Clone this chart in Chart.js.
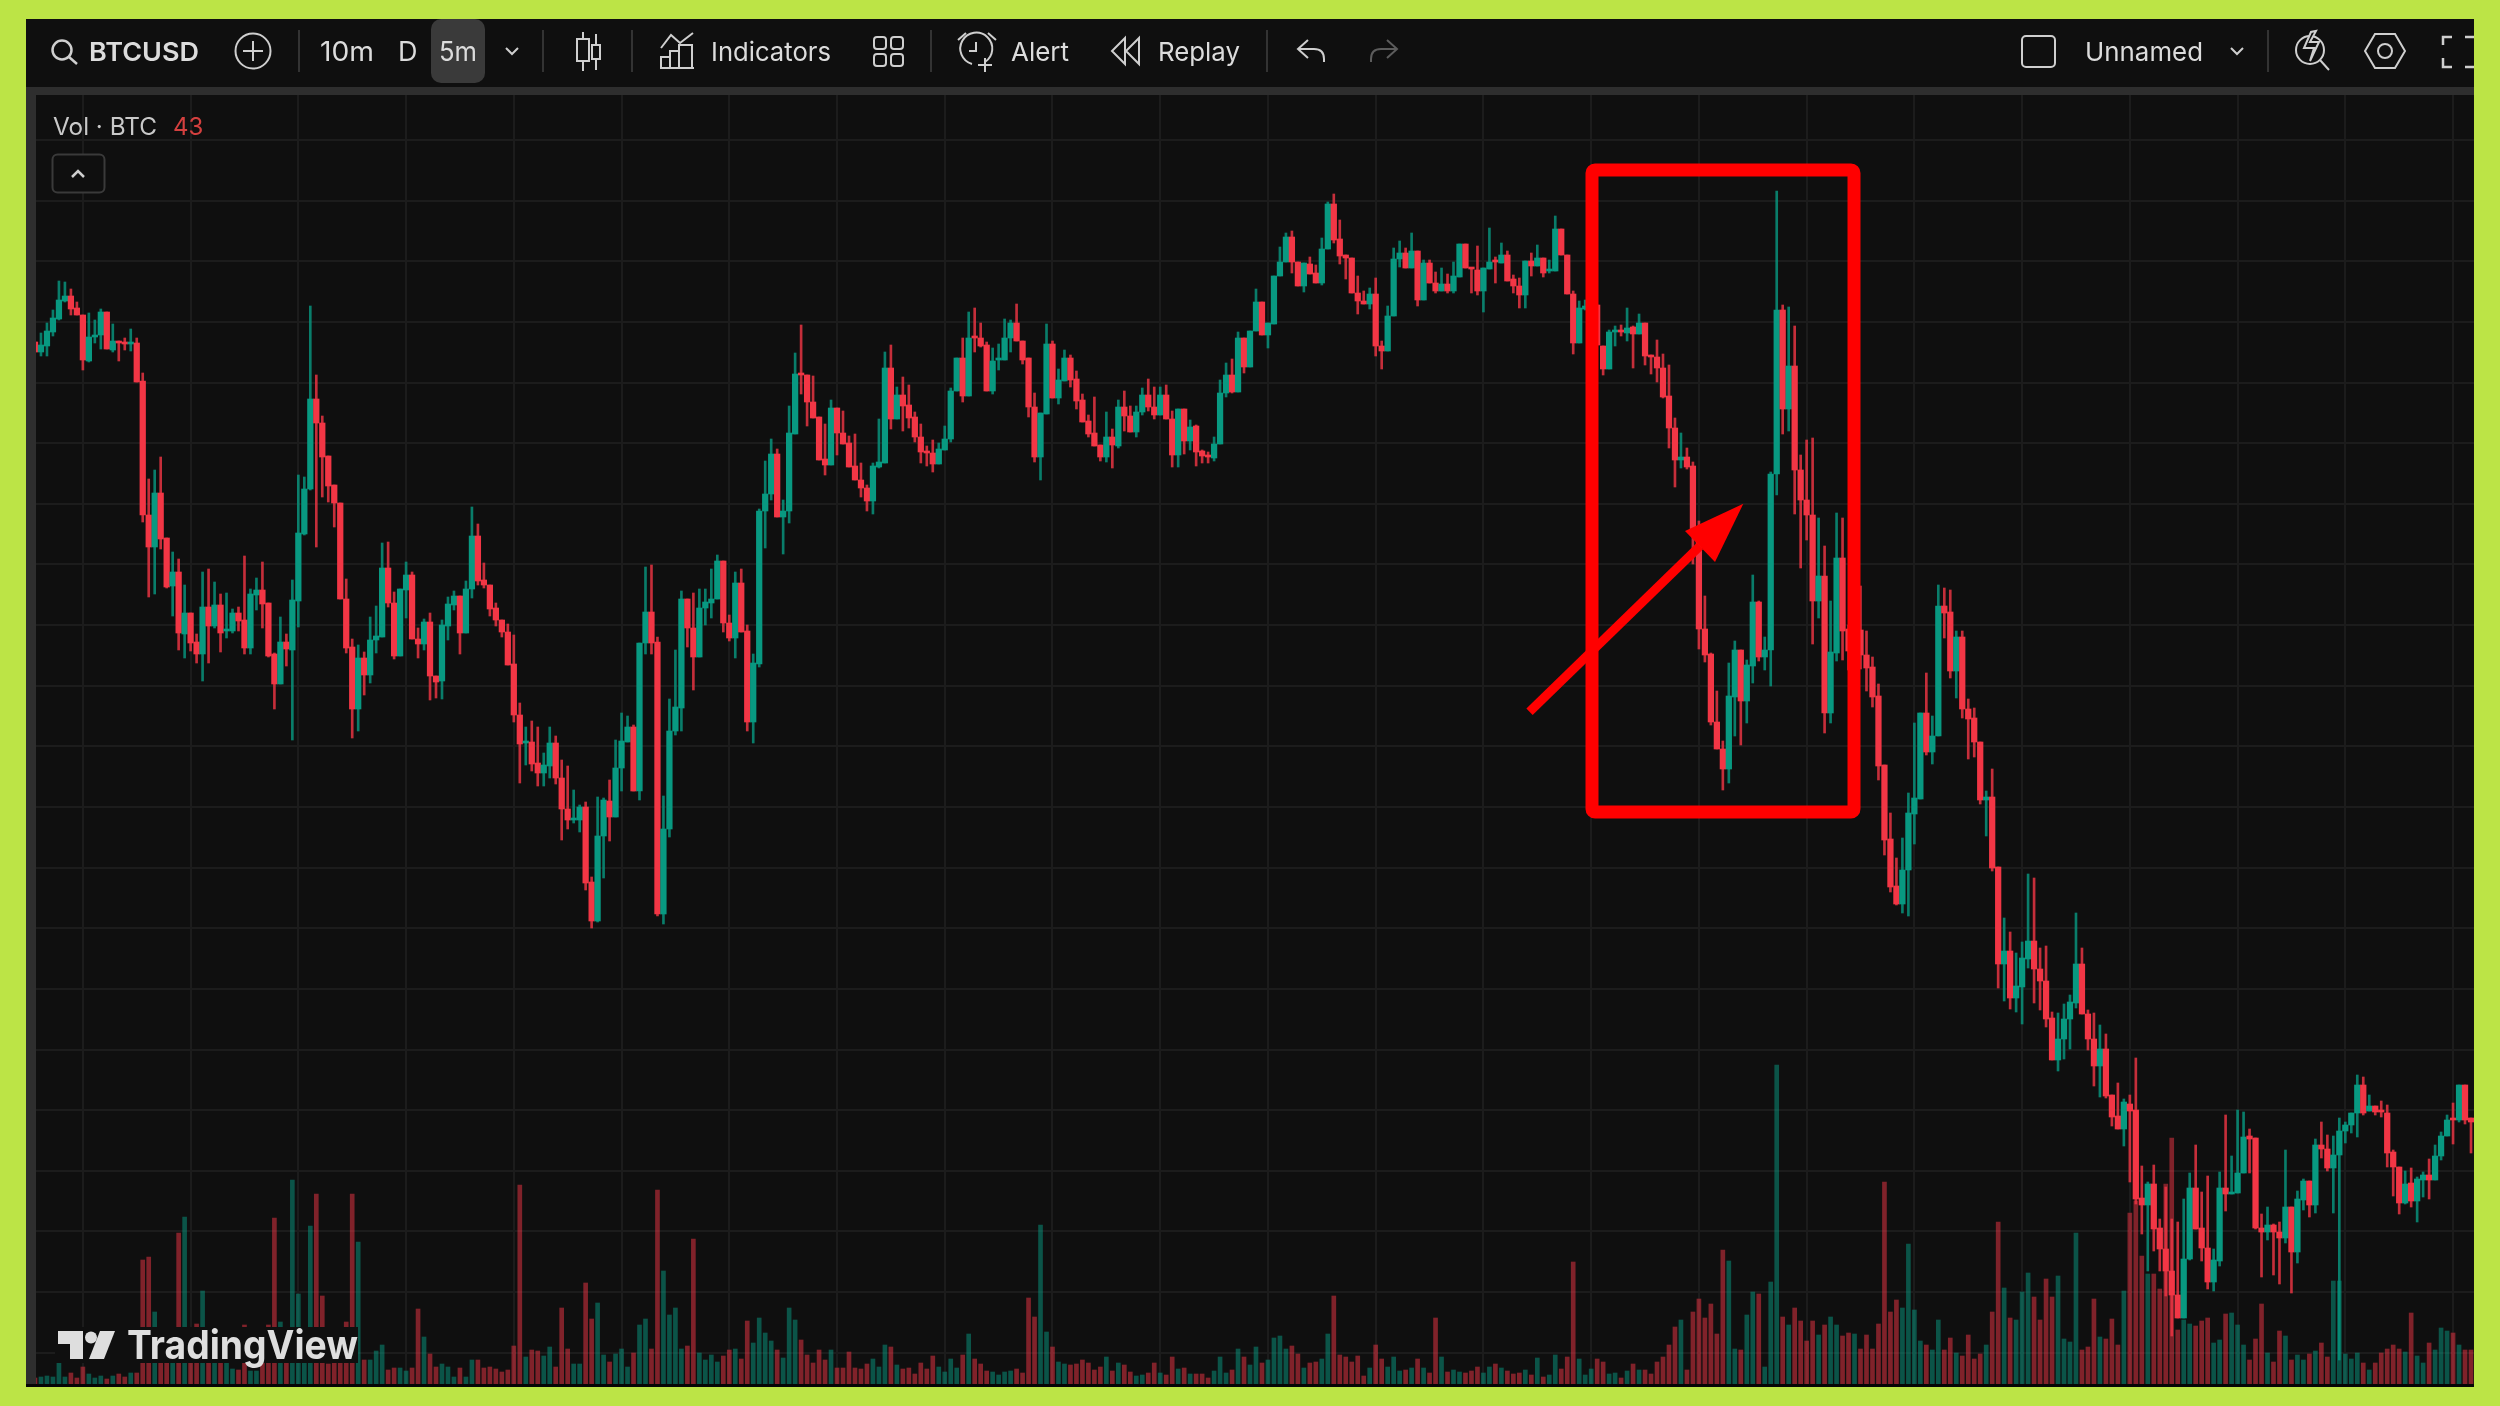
<!DOCTYPE html>
<html>
<head>
<meta charset="utf-8">
<title>BTCUSD</title>
<script src="https://cdn.jsdelivr.net/npm/chart.js@4/dist/chart.umd.js"></script>
<style>
  html, body { margin: 0; padding: 0; background: #bce446; }
  #panel { position: absolute; left: 26px; top: 19px; width: 2448px; height: 1368px; background: #0f0f0f; }
  #chart { position: absolute; left: 32px; top: 95px; filter: blur(0.5px); }
  #overlay { position: absolute; left: 0; top: 0; }
  #overlay text { font-family: Inter, "Noto Sans", sans-serif; fill: #dcdcdc; }
  .icon { fill: none; stroke: #cfcfcf; stroke-width: 2; }
</style>
</head>
<body>
<div id="panel"></div>
<canvas id="chart" width="2442" height="1289"></canvas>
<svg id="overlay" width="2500" height="1406" viewBox="0 0 2500 1406" xmlns="http://www.w3.org/2000/svg">
  <!-- frame pieces around the plot -->
  <rect x="26" y="87" width="2448" height="8" fill="#2e2e2e"/>
  <rect x="26" y="87" width="10" height="1300" fill="#2e2e2e"/>
  <rect x="26" y="1384" width="2448" height="3" fill="#060606"/>
  <rect x="2474" y="19" width="26" height="1368" fill="#bce446"/>

  <!-- toolbar -->
  <circle cx="62" cy="50" r="9.5" class="icon" style="stroke-width:2.5"/><path d="M69 57l8 7" class="icon" style="stroke-width:2.5"/>
  <text x="89" y="61" font-size="26" font-weight="600" textLength="110" lengthAdjust="spacingAndGlyphs">BTCUSD</text>
  <circle cx="253" cy="51" r="17.5" class="icon"/><path d="M253 41v20M243 51h20" class="icon"/>
  <path d="M299 30v42M543 30v42M632 30v42M931 30v42M1267 30v42M2268 30v42" stroke="#333" stroke-width="2"/>
  <text x="320" y="61" font-size="27" textLength="54" lengthAdjust="spacingAndGlyphs">10m</text>
  <text x="398" y="61" font-size="27">D</text>
  <rect x="431" y="19" width="54" height="64" rx="10" fill="#3a3a3a"/>
  <text x="439" y="61" font-size="27" textLength="38" lengthAdjust="spacingAndGlyphs">5m</text>
  <path d="M506 48l6 6 6-6" class="icon"/>
  <path d="M583 32v7M583 61v10M596 34v11M596 59v11" class="icon"/>
  <rect x="577" y="39" width="12" height="22" class="icon"/><rect x="592" y="45" width="8" height="14" class="icon"/>
  <path d="M661 48l10-13 9 8 13-10" class="icon"/>
  <path d="M661 68v-11h9v11M670 68v-17h9v17M679 68v-23h13v23M660 68h34" class="icon"/>
  <text x="711" y="61" font-size="26" textLength="120" lengthAdjust="spacingAndGlyphs">Indicators</text>
  <rect x="874" y="37" width="12" height="12" rx="3" class="icon"/><rect x="891" y="37" width="12" height="12" rx="3" class="icon"/>
  <rect x="874" y="54" width="12" height="12" rx="3" class="icon"/><rect x="891" y="54" width="12" height="12" rx="3" class="icon"/>
  <path d="M985 62a16 16 0 1 0 -13 2" class="icon"/><path d="M976 42v9h-7M958 40l8-7M996 40l-8-7M985 58v14M978 65h14" class="icon"/>
  <text x="1011" y="61" font-size="26" textLength="58" lengthAdjust="spacingAndGlyphs">Alert</text>
  <path d="M1125 38l-13 13 13 13zM1139 38l-13 13 13 13z" class="icon"/>
  <text x="1158" y="61" font-size="26" textLength="82" lengthAdjust="spacingAndGlyphs">Replay</text>
  <path d="M1308 40l-10 9 10 9M1298 49h16q10 0 10 10v3" class="icon"/>
  <path d="M1387 40l10 9-10 9M1397 49h-16q-10 0-10 10v3" class="icon" style="stroke:#5c5c5c"/>
  <rect x="2022" y="36" width="33" height="31" rx="4" class="icon"/>
  <text x="2085" y="61" font-size="26" textLength="118" lengthAdjust="spacingAndGlyphs">Unnamed</text>
  <path d="M2231 48l6 6 6-6" class="icon"/>
  <circle cx="2310" cy="50" r="14" class="icon"/><path d="M2320 60l9 10M2311 32l-7 16h10l-4 13 9-19h-9l6-11z" class="icon" style="fill:#0f0f0f"/>
  <path d="M2375 34h20l10 17-10 17h-20l-10-17z" class="icon"/><circle cx="2385" cy="51" r="7" class="icon"/>
  <path d="M2452 37h-9v8M2443 58v9h9M2465 37h9M2465 67h9" class="icon" style="stroke-width:2.5"/>

  <!-- legend -->
  <text x="53" y="135" font-size="24" textLength="104" lengthAdjust="spacingAndGlyphs" style="fill:#c9c9c9">Vol · BTC</text>
  <text x="173" y="135" font-size="24" style="fill:#d4403f">43</text>
  <rect x="52.5" y="154.5" width="52" height="38" rx="5" fill="#0f0f0f" stroke="#3a3a3a" stroke-width="2"/>
  <path d="M72 177l6-6 6 6" class="icon" style="stroke-width:2.5"/>

  <!-- annotation -->
  <rect x="1592" y="170" width="262" height="642" rx="3" fill="none" stroke="#ff0000" stroke-width="13" stroke-linejoin="round"/>
  <path d="M1529.5 711.7L1700 546" stroke="#ff0000" stroke-width="9" fill="none"/>
  <polygon points="1743.3,503.8 1685,531 1715,562" fill="#ff0000"/>

  <!-- watermark -->
  <rect x="55" y="1327" width="303" height="36" fill="#0f0f0f"/>
  <path d="M58 1331h25v28h-13v-15h-12z" fill="#dedede"/>
  <circle cx="91" cy="1337.5" r="6" fill="#dedede"/>
  <path d="M100 1331h15l-11 28h-15z" fill="#dedede"/>
  <text x="127" y="1359" font-size="40" font-weight="700" textLength="231" lengthAdjust="spacingAndGlyphs" style="fill:#dedede">TradingView</text>
</svg>

<script>
// values, price in chart points (no price scale is visible)
const directions = [
  'd u u u u u d d d u','u u d u d d u d d d','u d d u d u d d u d','u d u u d d u u d d',
  'd u d u u u u d d d','d d d d u d u u u d','d u u d d u d d u u','u d u u d d d d d d',
  'd d u d d u u d d d','u u d d u u d u u u','d u u d d u u u u d','d u u u u d d u d d',
  'u u u u d u u u d d','d d d u d d d d d d','u u u d u d d d d d','d u u u u d u d d d',
  'u u u u d d d d u u','d u u d d d d d d u','d u d d u u d d u d','d u d u d d d u u u',
  'd u d u u d u u u u','d d u d d u u d d d','d d d u d d u u u d','u d u d d u d u u d',
  'd d u u d u d d d u','d u d u u d d d u u','u d d u u d u d u d','d d d d d u d d d d',
  'd d d u u d u u d u','u u d u d d d d u d','u u d d u d d d d d','d d u u u u d u u d',
  'd u d d d d u d d u','d u u u d d d d u u','u u d d d u d d d u','d d d u d d d d d u',
  'u d d d u u d u u u','d d d u d d u d u u','d u d d u u u u u d','u d d d d d u d u u',
  'd u u u d u d d',
].join(' ').split(' ')
const bodyTops = [
  1058,1055,1069,1082,1100,1104,1104,1092,1085,1063,
  1065,1088,1088,1059,1059,1057,1057,1057,1019,885,
  907,907,862,828,828,787,787,758,793,793,
  795,795,771,787,787,780,806,810,810,797,
  746,758,758,800,867,911,1001,1001,977,944,
  915,897,801,753,742,742,760,764,832,832,
  797,811,825,825,761,778,778,724,775,796,
  804,804,811,864,864,820,815,792,780,768,
  736,685,658,658,637,635,657,657,622,591,
  582,593,593,518,564,600,599,632,659,673,
  673,757,788,788,758,571,669,693,801,801,
  772,792,798,801,839,839,777,817,817,769,
  737,889,906,946,946,889,967,1026,1027,1025,
  998,983,941,992,992,967,957,934,920,912,
  934,938,1032,1032,1005,1005,995,983,963,948,
  947,951,961,1009,1042,1042,1062,1063,1062,1055,
  1039,1042,1062,1077,1077,1059,1042,993,987,1056,
  1056,1020,1042,1042,1021,1000,979,967,955,963,
  963,993,993,984,988,1005,1005,993,1005,1005,
  981,991,991,973,974,949,944,956,1007,1025,
  1025,1062,1062,1069,1098,1098,1077,1124,1138,1163,
  1163,1138,1137,1136,1127,1151,1196,1196,1161,1145,
  1142,1107,1099,1106,1106,1054,1084,1141,1147,1147,
  1149,1149,1137,1137,1117,1116,1116,1124,1156,1156,
  1132,1130,1132,1138,1140,1145,1145,1121,1114,1139,
  1139,1142,1142,1130,1171,1171,1145,1106,1092,1094,
  1095,1095,1054,1068,1069,1069,1072,1073,1077,1077,
  1045,1043,1032,1004,972,943,943,934,868,771,
  746,678,651,704,750,750,735,798,798,750,
  926,1090,1090,1034,1034,930,900,885,824,824,
  748,842,842,771,770,770,745,733,704,635,
  561,514,530,587,602,687,687,664,794,794,
  788,763,763,691,682,658,603,603,533,449,
  449,414,442,459,459,431,419,382,361,381,
  398,436,436,386,361,351,351,305,284,298,
  296,290,202,216,216,172,151,129,105,141,
  212,212,172,152,140,212,212,208,227,263,
  264,262,172,175,175,168,193,193,201,219,
  219,255,255,251,245,269,275,287,315,315,
  294,294,290,287,248,233,216,217,221,225,
  225,244,264,280,281,315,315,282
]
const bodyBottoms = [
  1048,1048,1054,1068,1081,1099,1091,1085,1040,1039,
  1063,1065,1051,1050,1057,1056,1056,1018,885,853,
  853,861,813,814,767,766,757,746,746,774,
  774,767,769,769,779,752,752,805,796,744,
  716,716,751,750,799,866,911,977,943,914,
  897,801,752,691,691,725,725,760,763,797,
  744,744,810,761,756,756,724,718,719,774,
  795,767,767,811,819,815,791,780,768,735,
  685,656,657,636,627,627,634,622,591,580,
  580,580,517,479,479,564,583,583,632,658,
  609,609,757,757,486,486,571,669,692,772,
  743,743,792,797,801,777,762,762,768,678,
  678,736,889,906,883,883,889,966,1025,998,
  982,940,935,935,967,956,933,920,912,899,
  899,933,937,981,981,994,982,963,948,947,
  936,936,950,961,1009,1004,1004,1062,1054,1009,
  1009,1040,1040,1062,1059,1040,993,943,943,986,
  1002,1002,1019,1020,999,978,966,954,943,943,
  955,954,984,968,968,988,993,985,985,981,
  945,945,959,959,948,944,943,942,956,1007,
  1008,1008,1033,1033,1069,1065,1065,1076,1124,1138,
  1138,1114,1114,1126,1117,1117,1151,1160,1144,1142,
  1107,1099,1096,1096,1054,1049,1049,1084,1141,1132,
  1132,1100,1100,1117,1109,1109,1109,1109,1123,1132,
  1131,1109,1109,1131,1138,1137,1119,1114,1105,1105,
  1134,1134,1127,1129,1129,1145,1106,1057,1057,1091,
  1091,1055,1031,1031,1068,1068,1067,1066,1066,1044,
  1043,1032,1003,972,940,940,933,868,771,745,
  678,651,631,631,703,699,699,734,743,743,
  750,926,991,991,930,900,885,799,799,687,
  687,747,769,749,749,745,732,703,634,560,
  513,496,496,530,586,601,648,648,664,787,
  729,729,691,681,658,600,600,532,436,436,
  402,402,413,441,431,419,381,340,340,361,
  381,397,386,361,334,334,304,283,271,271,
  289,201,195,195,171,151,129,105,82,82,
  141,171,152,118,118,139,206,206,207,227,
  261,172,168,168,168,162,162,148,148,200,
  195,195,251,232,232,245,269,275,287,287,
  289,288,288,247,233,197,197,199,199,220,
  220,220,244,264,280,280,280,278
]
const highs = [
  1058,1067,1077,1090,1119,1118,1111,1098,1085,1087,
  1080,1091,1088,1076,1059,1062,1071,1062,1027,921,
  930,943,862,848,841,815,787,766,828,831,
  818,806,807,791,793,844,811,822,838,797,
  747,783,766,820,925,923,1094,1025,984,944,
  915,897,821,761,755,748,783,794,857,858,
  808,811,838,828,772,781,787,724,780,803,
  809,804,819,893,876,837,815,797,780,776,
  765,697,673,679,673,647,673,664,640,634,
  610,595,598,523,603,602,620,660,687,684,
  675,757,833,835,763,604,701,750,809,801,
  807,811,811,831,845,839,785,828,831,775,
  746,891,939,961,951,900,994,1047,1075,1025,
  1024,983,976,1000,992,989,964,966,937,915,
  937,981,1048,1055,1013,1023,1015,988,976,954,
  960,957,974,1012,1042,1062,1088,1092,1077,1058,
  1052,1056,1081,1080,1096,1059,1042,1007,987,1076,
  1059,1031,1050,1045,1029,1006,985,1003,955,988,
  971,1000,1009,994,994,1012,1021,1013,1013,1015,
  989,991,991,980,975,950,948,963,1020,1037,
  1041,1068,1062,1069,1111,1098,1077,1124,1153,1167,
  1169,1138,1137,1143,1135,1162,1198,1206,1180,1145,
  1142,1124,1109,1112,1122,1059,1094,1152,1159,1152,
  1167,1149,1140,1140,1128,1132,1126,1138,1156,1156,
  1132,1154,1132,1172,1143,1157,1149,1125,1122,1139,
  1147,1155,1142,1140,1184,1171,1145,1109,1099,1100,
  1098,1095,1054,1070,1074,1075,1092,1074,1086,1077,
  1045,1060,1046,1035,982,967,952,938,879,804,
  747,709,659,737,759,750,740,825,799,763,
  928,1209,1095,1093,1074,945,960,962,882,854,
  799,887,882,775,776,814,769,743,716,635,
  587,542,562,607,677,687,727,684,815,812,
  810,769,769,701,692,658,609,631,533,482,
  468,447,458,526,522,452,454,388,387,396,
  405,487,452,390,387,375,366,305,317,301,
  305,342,234,218,235,181,213,181,178,201,
  227,255,208,224,151,228,285,244,290,288,
  271,262,186,193,176,178,250,193,209,221,
  219,261,278,265,264,282,278,287,325,323,
  305,294,299,295,250,233,229,232,223,228,
  241,255,268,285,297,315,315,282
]
const lows = [
  1048,1044,1044,1064,1080,1098,1085,1085,1030,1038,
  1057,1051,1051,1048,1039,1050,1049,1018,878,803,
  806,851,812,784,750,742,749,737,719,737,
  772,748,762,767,769,746,746,790,772,743,
  691,716,734,660,773,865,910,853,903,898,
  873,801,747,662,669,705,717,747,763,793,
  741,744,782,761,742,750,700,702,701,760,
  790,746,767,802,815,812,784,774,763,735,
  678,617,635,629,614,614,622,616,560,571,
  577,568,510,472,478,522,559,583,609,658,
  609,600,746,746,484,476,563,665,669,753,
  710,743,775,782,801,768,759,742,768,669,
  657,733,852,900,883,846,877,966,1006,974,
  982,940,925,935,945,956,933,920,903,889,
  886,932,937,971,981,969,972,958,937,934,
  928,936,950,958,1009,998,1004,1048,1053,1009,
  1006,1030,1040,1048,1059,1036,983,938,920,986,
  1002,996,1019,1013,991,978,963,954,939,938,
  932,952,969,968,963,985,989,981,985,981,
  933,933,946,950,934,937,937,939,956,1003,
  1007,1008,1027,1033,1069,1065,1052,1076,1124,1138,
  1127,1114,1108,1126,1117,1115,1151,1157,1136,1121,
  1107,1086,1096,1091,1044,1031,1049,1084,1133,1132,
  1132,1094,1100,1117,1107,1109,1107,1107,1123,1132,
  1107,1105,1088,1131,1117,1137,1119,1107,1092,1092,
  1124,1134,1123,1127,1129,1145,1106,1046,1057,1090,
  1090,1055,1025,1031,1054,1064,1059,1032,1066,1035,
  1026,1018,1002,952,913,932,931,836,751,738,
  675,651,610,617,664,655,677,717,739,730,
  714,905,966,969,886,832,860,756,782,667,
  677,739,740,730,745,731,709,693,620,545,
  508,495,487,484,556,601,645,636,664,762,
  722,702,682,641,643,596,564,529,412,399,
  391,388,376,432,397,390,373,340,329,341,
  351,392,386,350,314,303,302,274,271,254,
  218,196,166,129,149,129,104,64,82,82,
  140,171,139,111,109,134,189,206,207,227,
  227,171,123,160,125,116,157,107,137,190,
  183,187,242,229,187,40,257,267,263,285,
  289,285,283,233,204,186,196,193,178,203,
  201,220,240,264,256,278,276,247
]
const volumes = [
  6,7,8,7,28,7,11,6,17,10,
  6,8,5,8,10,7,11,11,124,127,
  72,28,21,21,151,167,54,60,93,21,
  21,21,21,15,14,59,13,13,21,59,
  166,62,24,204,90,21,158,190,88,20,
  21,21,62,190,142,24,24,33,39,14,
  16,16,13,16,75,47,30,17,20,17,
  7,16,7,24,24,16,17,15,12,14,
  38,199,27,34,33,28,37,17,76,35,
  20,20,101,65,81,29,22,30,35,17,
  31,59,65,35,194,113,69,76,35,38,
  145,31,24,29,22,28,34,35,25,63,
  41,66,51,43,34,26,76,64,44,29,
  21,34,24,34,16,16,32,16,15,20,
  25,17,39,37,19,15,16,10,21,15,
  28,17,12,25,16,29,50,25,20,13,
  12,9,12,13,15,11,86,67,159,52,
  37,22,20,19,20,24,21,14,17,27,
  13,21,19,12,8,9,11,21,11,9,
  27,15,16,10,10,10,6,13,27,11,
  14,35,27,19,37,21,24,46,48,35,
  38,30,16,21,22,25,50,88,29,27,
  22,28,8,16,39,25,17,27,13,14,
  16,25,16,11,66,27,12,14,12,11,
  13,17,11,17,20,16,13,10,11,14,
  9,26,7,9,29,15,27,122,25,9,
  15,25,22,10,11,6,13,20,14,14,
  10,22,27,39,57,64,14,72,85,66,
  80,50,134,123,35,34,69,92,90,17,
  102,319,67,59,76,63,43,63,49,59,
  67,59,48,51,50,35,49,35,60,202,
  72,84,76,140,74,43,39,34,64,34,
  46,31,28,49,25,30,39,72,162,96,
  66,64,92,111,87,64,105,87,108,45,
  42,151,34,37,85,47,45,65,39,93,
  171,183,128,110,110,95,200,246,54,64,
  60,58,63,66,41,44,70,71,59,39,
  24,45,80,31,22,53,48,24,29,24,
  30,33,41,27,103,103,30,25,31,21,
  14,21,31,35,39,35,32,71,28,21,
  41,34,56,53,51,39,34,34
]
const priceGridLevels = [1260,1199.4,1138.7,1078.1,1017.5,956.9,896.2,835.6,775,714.3,653.7,593.1,532.4,471.8,411.2,350.5,289.9,229.3,168.7,108,47.4]
const firstGridCandle = 8
const gridEveryCandles = 18

const upColor = '#089981'
const downColor = '#f23645'
const upWick = 'rgba(8,153,129,0.8)'
const downWick = 'rgba(242,54,69,0.8)'
const upVolume = 'rgba(8,153,129,0.5)'
const downVolume = 'rgba(242,54,69,0.5)'
const gridColor = '#1c1c1c'

const labels = bodyTops.map((_, i) => i)
const pick = (i, up, down) => directions[i] === 'u' ? up : down

new Chart(document.getElementById('chart'), {
  type: 'bar',
  data: {
    labels,
    datasets: [
      {
        label: 'Volume',
        data: volumes,
        yAxisID: 'yVol',
        barThickness: 4,
        order: 3,
        backgroundColor: volumes.map((_, i) => pick(i, upVolume, downVolume)),
      },
      {
        label: 'Wick',
        data: lows.map((l, i) => [l, highs[i]]),
        yAxisID: 'y',
        barThickness: 2,
        order: 2,
        backgroundColor: lows.map((_, i) => pick(i, upWick, downWick)),
      },
      {
        label: 'Body',
        data: bodyBottoms.map((b, i) => [b, bodyTops[i]]),
        yAxisID: 'y',
        barThickness: 5.6,
        minBarLength: 2,
        order: 1,
        backgroundColor: bodyTops.map((_, i) => pick(i, upColor, downColor)),
      },
    ],
  },
  options: {
    responsive: false,
    animation: false,
    layout: { padding: 0 },
    datasets: { bar: { grouped: false, borderWidth: 0 } },
    plugins: { legend: { display: false }, tooltip: { enabled: false } },
    scales: {
      x: {
        offset: true,
        ticks: { display: false },
        border: { display: false },
        grid: {
          offset: false,
          drawTicks: false,
          lineWidth: 2,
          color: ctx => (ctx.index - firstGridCandle) % gridEveryCandles === 0 ? gridColor : 'transparent',
        },
      },
      y: {
        min: 16,
        max: 1305,
        ticks: { display: false },
        border: { display: false },
        grid: { drawTicks: false, lineWidth: 2, color: gridColor },
        afterBuildTicks(axis) { axis.ticks = priceGridLevels.map(value => ({ value })) },
      },
      yVol: { display: false, min: 0, max: 1289 },
    },
  },
})
</script>
</body>
</html>
